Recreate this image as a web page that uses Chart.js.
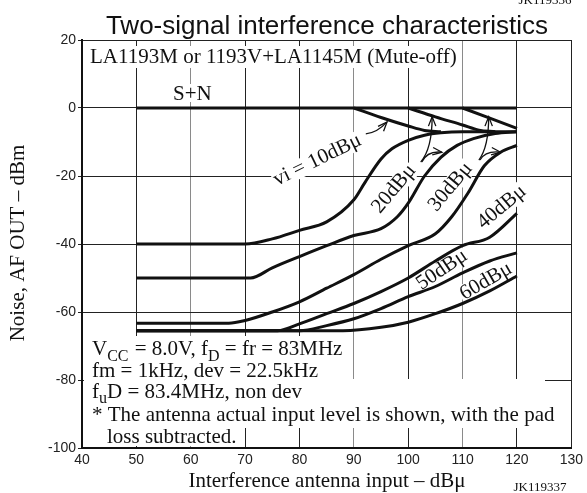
<!DOCTYPE html>
<html>
<head>
<meta charset="utf-8">
<script src="https://cdn.jsdelivr.net/npm/chart.js@4.4.1/dist/chart.umd.min.js"></script>
<style>
  html, body { margin: 0; padding: 0; background: #fff; }
  #wrap { width: 587px; height: 493px; position: relative; }
</style>
</head>
<body>
<div id="wrap"><canvas id="chart" width="587" height="493"></canvas></div>
<script>
// tick labels
const xTicks = [40, 50, 60, 70, 80, 90, 100, 110, 120, 130];
const yTicks = [20, 0, -20, -40, -60, -80, -100];

// S+N level
const snX = [50, 120];
const snY = [0, 0];

// S+N drop for each vi
const drop10X = [90, 95, 100, 103, 106];
const drop10Y = [0, -2.8, -5.3, -6.6, -7];
const drop20X = [100, 105, 110, 113, 116];
const drop20Y = [0, -2.6, -5, -6.5, -7];
const drop30X = [110, 115, 120];
const drop30Y = [0, -3, -6];

// noise curves
const vi10X = [50, 70, 75, 80, 85, 90, 92, 95, 97, 100, 103, 106, 110, 120];
const vi10Y = [-40, -40, -38.5, -36, -33.5, -27, -22, -15, -12, -9.5, -8, -7.3, -7, -7];
const vi20X = [50, 71, 75, 80, 85, 90, 95, 98, 100, 103, 106, 109, 112, 116, 120];
const vi20Y = [-50, -50, -47, -43.7, -40.5, -37.5, -35.5, -32, -28, -20, -14.5, -11, -9, -7.5, -7];
const vi30X = [50, 67, 70, 75, 80, 85, 90, 95, 100, 105, 108, 111, 114, 117, 120];
const vi30Y = [-63.3, -63.3, -62.5, -60, -57, -53, -49, -44.5, -40.5, -37, -32, -25, -17, -13, -11];
const vi40X = [50, 76, 80, 85, 90, 95, 100, 105, 110, 115, 120];
const vi40Y = [-65.5, -65.5, -63.5, -60.5, -57.5, -54, -50, -45, -40.5, -38, -31];
const vi50X = [50, 80, 85, 90, 95, 100, 105, 110, 115, 120];
const vi50Y = [-65.5, -65.5, -64, -62, -59, -55.5, -52.5, -48.5, -45, -42.6];
const vi60X = [50, 88, 95, 100, 105, 110, 115, 120];
const vi60Y = [-65.5, -65.5, -64.5, -63, -60.5, -57.5, -53.8, -49.4];

function pts(xs, ys) {
    return xs.map((x, i) => ({ x: x, y: ys[i] }));
}

function curve(xs, ys) {
    return {
        data: pts(xs, ys),
        borderColor: '#111',
        borderWidth: 3,
        pointRadius: 0,
        fill: false,
        tension: 0.4,
        cubicInterpolationMode: 'monotone'
    };
}

const serif = '"Liberation Serif", "DejaVu Serif", serif';
const sans = '"Liberation Sans", Arial, sans-serif';
const FS = 21;

function whiteBox(ctx, x0, y0, x1, y1) {
    ctx.fillStyle = '#fff';
    ctx.fillRect(x0, y0, x1 - x0, y1 - y0);
}

function rotText(ctx, str, x, y, deg) {
    ctx.save();
    ctx.translate(x, y);
    ctx.rotate(deg * Math.PI / 180);
    ctx.font = FS + 'px ' + serif;
    const w = ctx.measureText(str).width;
    ctx.fillStyle = '#fff';
    ctx.fillRect(-w / 2 - 1, -FS * 0.45, w + 2, FS * 0.9);
    ctx.fillStyle = '#111';
    ctx.textAlign = 'center';
    ctx.textBaseline = 'middle';
    ctx.fillText(str, 0, 0);
    ctx.restore();
}

function arrow(ctx, xs, ys, x0, y0, cx, cy, x1, y1) {
    const ax = xs.getPixelForValue(x0), ay = ys.getPixelForValue(y0);
    const bx = xs.getPixelForValue(cx), by = ys.getPixelForValue(cy);
    const ex = xs.getPixelForValue(x1), ey = ys.getPixelForValue(y1);
    ctx.save();
    ctx.strokeStyle = '#111';
    ctx.lineWidth = 1.3;
    ctx.beginPath();
    ctx.moveTo(ax, ay);
    ctx.quadraticCurveTo(bx, by, ex, ey);
    ctx.stroke();
    const ang = Math.atan2(ey - by, ex - bx);
    ctx.beginPath();
    ctx.moveTo(ex - 10 * Math.cos(ang - 0.38), ey - 10 * Math.sin(ang - 0.38));
    ctx.lineTo(ex, ey);
    ctx.lineTo(ex - 10 * Math.cos(ang + 0.38), ey - 10 * Math.sin(ang + 0.38));
    ctx.stroke();
    ctx.restore();
}

const labelsPlugin = {
    id: 'labels',
    beforeDatasetsDraw(chart) {
        const ctx = chart.ctx;
        const xs = chart.scales.x, ys = chart.scales.y;
        const p = (vx, vy) => [xs.getPixelForValue(vx), ys.getPixelForValue(vy)];
        ctx.save();
        ctx.textBaseline = 'alphabetic';
        ctx.font = FS + 'px ' + serif;
        // header texts
        let w = ctx.measureText('LA1193M or 1193V+LA1145M (Mute-off)').width;
        whiteBox(ctx, 88, 46, 92 + w, 68);
        w = ctx.measureText('S+N').width;
        whiteBox(ctx, 172, 84, 174 + w, 102);
        ctx.fillStyle = '#111';
        ctx.fillText('LA1193M or 1193V+LA1145M (Mute-off)', 90, 63);
        ctx.fillText('S+N', 173, 100);

        // curve labels
        let q = p(83.3, -15.3); rotText(ctx, 'vi = 10dBμ', q[0], q[1], -26);
        q = p(97.4, -23.8); rotText(ctx, '20dBμ', q[0], q[1], -50);
        q = p(107.8, -23.2); rotText(ctx, '30dBμ', q[0], q[1], -50);
        q = p(117.2, -29.1); rotText(ctx, '40dBμ', q[0], q[1], -40);
        q = p(106.2, -47.6); rotText(ctx, '50dBμ', q[0], q[1], -34);
        q = p(114.3, -51); rotText(ctx, '60dBμ', q[0], q[1], -30);

        // conditions block
        whiteBox(ctx, 84, 336, 350, 379);
        whiteBox(ctx, 84, 379, 545, 428);
        whiteBox(ctx, 84, 428, 240, 446);
        ctx.fillStyle = '#111';
        let x = 92;
        ctx.font = FS + 'px ' + serif;
        ctx.fillText('V', x, 355);
        x += ctx.measureText('V').width;
        ctx.font = '16px ' + serif;
        ctx.fillText('CC', x, 361);
        x += ctx.measureText('CC').width + 1;
        ctx.font = FS + 'px ' + serif;
        ctx.fillText(' = 8.0V, f', x, 355);
        x += ctx.measureText(' = 8.0V, f').width;
        ctx.font = '16px ' + serif;
        ctx.fillText('D', x, 361);
        x += ctx.measureText('D').width;
        ctx.font = FS + 'px ' + serif;
        ctx.fillText(' = fr = 83MHz', x, 355);
        ctx.fillText('fm = 1kHz, dev = 22.5kHz', 92, 377);
        x = 92;
        ctx.fillText('f', x, 398);
        x += ctx.measureText('f').width;
        ctx.font = '16px ' + serif;
        ctx.fillText('u', x, 403);
        x += ctx.measureText('u').width;
        ctx.font = FS + 'px ' + serif;
        ctx.fillText('D = 83.4MHz, non dev', x, 398);
        ctx.fillText('* The antenna actual input level is shown, with the pad', 92, 421);
        ctx.fillText('loss subtracted.', 107, 443);
        ctx.restore();
    },
    afterDatasetsDraw(chart) {
        const ctx = chart.ctx;
        const xs = chart.scales.x, ys = chart.scales.y;
        ctx.save();
        // vi = 10 -> S+N drop
        arrow(ctx, xs, ys, 92.2, -7.6, 94.3, -7.3, 96.1, -4.1);
        // 20 -> drop and curve
        arrow(ctx, xs, ys, 102.3, -15.9, 104.4, -12, 104.4, -2.6);
        arrow(ctx, xs, ys, 102.5, -15.9, 103.5, -12.5, 106.2, -13);
        // 30 -> drop and curve
        arrow(ctx, xs, ys, 113, -15.3, 114.8, -11.5, 114.8, -2.6);
        arrow(ctx, xs, ys, 113.2, -15.3, 114.2, -12.5, 117, -13);
        ctx.restore();
    },
    afterDraw(chart) {
        const ctx = chart.ctx;
        ctx.save();
        ctx.fillStyle = '#111';
        ctx.textAlign = 'center';
        // clipped figure number of the previous figure
        ctx.font = '13px ' + serif;
        ctx.fillText('JK119336', 545, 4);
        ctx.font = '26px ' + sans;
        ctx.fillText('Two-signal interference characteristics', 327, 34);
        ctx.font = FS + 'px ' + serif;
        ctx.fillText('Interference antenna input – dBμ', 327, 487);
        ctx.font = '13px ' + serif;
        ctx.fillText('JK119337', 540, 491);
        ctx.translate(24, 243);
        ctx.rotate(-Math.PI / 2);
        ctx.font = FS + 'px ' + serif;
        ctx.fillText('Noise, AF OUT – dBm', 0, 0);
        ctx.restore();
    }
};

const datasets = [
    curve(snX, snY),
    curve(drop10X, drop10Y),
    curve(drop20X, drop20Y),
    curve(drop30X, drop30Y),
    curve(vi10X, vi10Y),
    curve(vi20X, vi20Y),
    curve(vi30X, vi30Y),
    curve(vi40X, vi40Y),
    curve(vi50X, vi50Y),
    curve(vi60X, vi60Y)
];

const grayX = [60, 90, 110];

new Chart(document.getElementById('chart'), {
    type: 'line',
    data: { datasets: datasets },
    options: {
        responsive: false,
        animation: false,
        layout: { padding: { top: 40, right: 14, left: 0, bottom: 0 } },
        plugins: { legend: { display: false }, tooltip: { enabled: false } },
        scales: {
            x: {
                type: 'linear',
                min: 40,
                max: 130,
                afterFit(scale) { scale.height = 45; },
                afterBuildTicks(scale) { scale.ticks = xTicks.map(v => ({ value: v })); },
                grid: {
                    color: c => grayX.includes(c.tick && c.tick.value) ? '#8a8a8a' : '#222',
                    lineWidth: 1,
                    drawTicks: false
                },
                border: { color: '#111', width: 2 },
                ticks: { color: '#222', font: { family: sans, size: 14 }, padding: 4, maxRotation: 0 }
            },
            y: {
                type: 'linear',
                min: -100,
                max: 20,
                afterFit(scale) { scale.width = 82; },
                afterBuildTicks(scale) { scale.ticks = yTicks.map(v => ({ value: v })); },
                grid: { color: '#222', lineWidth: 1, drawTicks: true, tickLength: 4 },
                border: { color: '#111', width: 2 },
                ticks: { color: '#222', font: { family: sans, size: 14 }, padding: 2 }
            }
        }
    },
    plugins: [labelsPlugin]
});
</script>
</body>
</html>
